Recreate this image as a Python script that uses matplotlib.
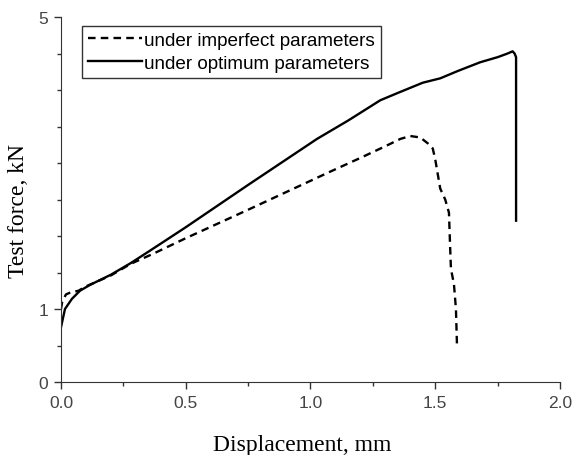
import matplotlib.pyplot as plt
from matplotlib.ticker import FixedLocator, MultipleLocator

# displacement (mm) / force (kN)
x_imperfect = [0, 0.005, 0.02, 0.04, 0.07, 0.1, 0.2, 0.28, 0.365, 0.5, 0.75, 1.078, 1.2, 1.3,
               1.36, 1.40, 1.44, 1.47, 1.49, 1.50, 1.51, 1.52, 1.54, 1.555, 1.56, 1.563, 1.575,
               1.583, 1.587]
y_imperfect = [1.0, 1.1, 1.2, 1.23, 1.25, 1.31, 1.46, 1.62, 1.75, 1.97, 2.36, 2.88, 3.07, 3.23,
               3.33, 3.37, 3.35, 3.27, 3.20, 3.05, 2.85, 2.65, 2.50, 2.32, 1.82, 1.55, 1.34,
               1.0, 0.52]

x_optimum = [0, 0.016, 0.044, 0.076, 0.116, 0.2, 0.28, 0.357, 0.5, 0.75, 1.026, 1.15, 1.28,
             1.35, 1.45, 1.52, 1.59, 1.68, 1.75, 1.79, 1.81, 1.818, 1.824, 1.824]
y_optimum = [0.75, 1.0, 1.14, 1.25, 1.33, 1.47, 1.63, 1.80, 2.12, 2.70, 3.33, 3.58, 3.86,
             3.96, 4.10, 4.16, 4.26, 4.38, 4.45, 4.50, 4.53, 4.50, 4.45, 2.21]

y_ticks = [0, 1, 5]

fig = plt.figure(figsize=(5.72, 4.56), dpi=100)
ax = fig.add_axes([0.1066, 0.16, 0.8724, 0.8005])

ax.plot(x_imperfect, y_imperfect, color='black', linewidth=1.7, linestyle=(0, (3.2, 2.2)),
        label='under imperfect parameters')
ax.plot(x_optimum, y_optimum, color='black', linewidth=1.7, label='under optimum parameters')

ax.set_xlim(0, 2.0)
ax.set_ylim(0, 5)
ax.xaxis.set_major_locator(MultipleLocator(0.5))
ax.xaxis.set_minor_locator(MultipleLocator(0.25))
ax.yaxis.set_major_locator(FixedLocator(y_ticks))
ax.yaxis.set_minor_locator(MultipleLocator(0.5))
ax.set_xticklabels([f'{v:.1f}' for v in ax.get_xticks()])

for s in ['top', 'right']:
    ax.spines[s].set_visible(False)
for s in ['left', 'bottom']:
    ax.spines[s].set_color('#333333')
ax.tick_params(which='major', direction='out', length=5, width=1, colors='#333333',
               labelsize=12.5, pad=4)
ax.tick_params(which='minor', direction='out', length=3, width=1, colors='#333333')
for lab in ax.get_xticklabels() + ax.get_yticklabels():
    lab.set_family('Liberation Sans')
    lab.set_color('#444444')

ax.set_xlabel('Displacement, mm', fontsize=17, family='Liberation Serif')
ax.set_ylabel('Test force, kN', fontsize=17, family='Liberation Serif')
ax.xaxis.set_label_coords(0.483, -0.143)
ax.yaxis.set_label_coords(-0.064, 0.47)

leg = ax.legend(loc='upper left', bbox_to_anchor=(0.042, 0.975), fancybox=False,
                edgecolor='#333333', framealpha=1, borderpad=0.3, labelspacing=0.3,
                handlelength=2.9, handletextpad=0.1, borderaxespad=0,
                prop={'family': 'Liberation Sans', 'size': 13.6})
leg.get_frame().set_linewidth(1)

fig.savefig('out.png', dpi=100)
